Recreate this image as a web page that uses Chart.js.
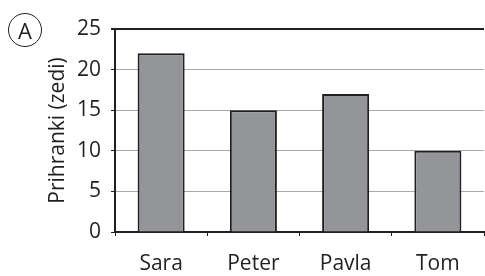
<!DOCTYPE html>
<html>
<head>
<meta charset="utf-8">
<script src="https://cdn.jsdelivr.net/npm/chart.js@4/dist/chart.umd.min.js"></script>
<style>
  body { margin: 0; background: #fff; }
  #wrap { position: relative; width: 485px; height: 276px; }
  #mark {
    position: absolute; left: 8px; top: 13px; width: 32px; height: 32px;
    border: 1.5px solid #231f20; border-radius: 50%;
    font: 22px "Open Sans", sans-serif; color: #231f20;
    text-align: center; line-height: 32px;
  }
</style>
</head>
<body>
<div id="wrap">
  <canvas id="graf" width="485" height="276"></canvas>
  <div id="mark">A</div>
</div>
<script>
// podatki
const imena = ['Sara', 'Peter', 'Pavla', 'Tom'];
const prihranki = [22, 15, 17, 10];
const yMax = 25;
const yKorak = 5;

const crna = '#231f20';
const pisava = { family: '"Open Sans", sans-serif', size: 21 };

new Chart(document.getElementById('graf'), {
  type: 'bar',
  data: {
    labels: imena,
    datasets: [{
      data: prihranki,
      backgroundColor: '#939598',
      borderColor: crna,
      borderWidth: 2,
      barPercentage: 0.51,
      categoryPercentage: 1
    }]
  },
  options: {
    responsive: false,
    animation: false,
    layout: { padding: { top: 29, right: 1, left: 0, bottom: 0 } },
    plugins: { legend: { display: false }, tooltip: { enabled: false } },
    scales: {
      x: {
        offset: true,
        grid: { display: true, drawOnChartArea: false, tickLength: 4, color: crna, lineWidth: 1 },
        border: { display: true, color: crna, width: 2 },
        ticks: { color: crna, font: pisava, padding: 15 },
        afterFit: (s) => { s.height = 44; }
      },
      y: {
        min: 0,
        max: yMax,
        ticks: { stepSize: yKorak, color: crna, font: pisava, padding: 10 },
        grid: {
          tickLength: 4,
          tickColor: crna,
          color: (c) => (c.tick && (c.tick.value === yMax || c.tick.value === 0)) ? crna : '#a7a9ac',
          lineWidth: (c) => (c.tick && c.tick.value === yMax) ? 2 : 1
        },
        border: { display: true, color: crna, width: 2 },
        title: {
          display: true,
          text: 'Prihranki (zedi)',
          color: crna,
          font: pisava,
          padding: { top: 45, bottom: 0 }
        },
        afterFit: (s) => { s.width = 115; }
      }
    }
  }
});
</script>
</body>
</html>
